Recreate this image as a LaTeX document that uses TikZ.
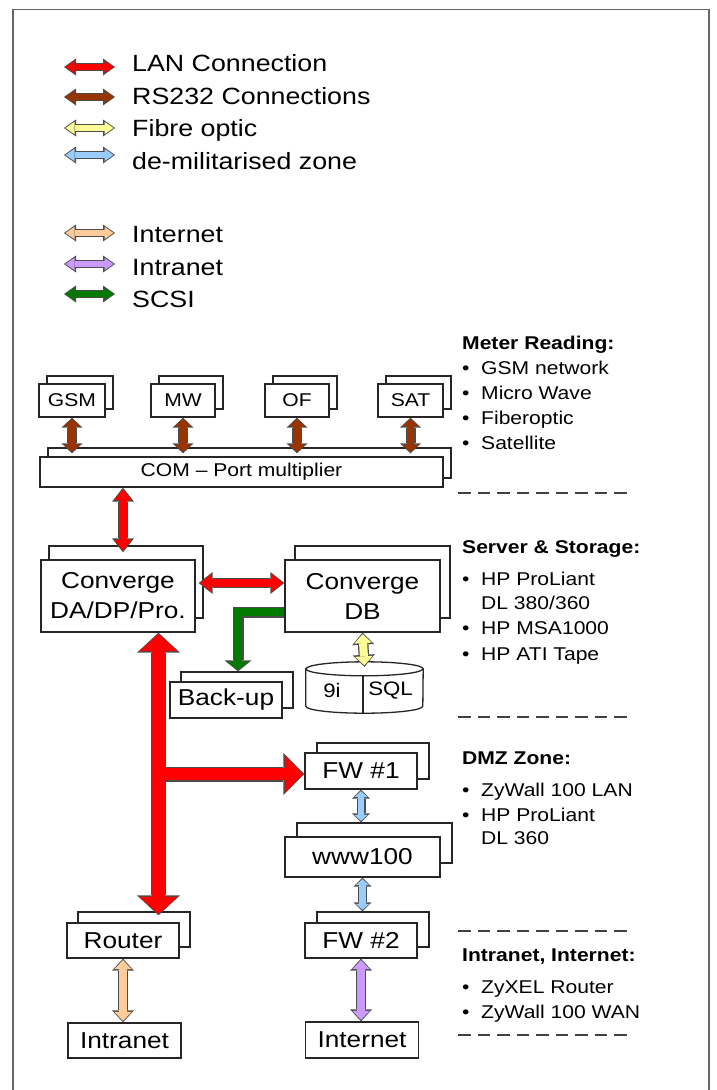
\documentclass[tikz,border=0pt]{standalone}
\usepackage{fontspec}
\setmainfont{Liberation Sans}[FakeStretch=1.14]
\usepackage{tikz}
\usetikzlibrary{calc}
\usetikzlibrary{arrows.meta}
\usetikzlibrary{shadows}
\definecolor{lanred}{HTML}{FF0000}
\definecolor{rsbrown}{HTML}{993300}
\definecolor{fibre}{HTML}{FFFF99}
\definecolor{dmzblue}{HTML}{99CCFF}
\definecolor{webpeach}{HTML}{FFCC99}
\definecolor{netlilac}{HTML}{CC99FF}
\definecolor{scsigreen}{HTML}{007A00}
\newcommand\itembul{\makebox[19pt][l]{\textbullet}}

\begin{document}
\begin{tikzpicture}[x=1pt,y=-1pt]
  \tikzset{
    box/.style={draw=black!85, line width=1.3pt, fill=white, inner sep=0pt, align=center, font=\fontsize{23}{30}\selectfont},
    tag/.style={box, font=\fontsize{18.5}{22}\selectfont},
    back/.style 2 args={copy shadow={shadow xshift=#1, shadow yshift=#2, draw=black!85, fill=white, line width=1.3pt}},
    rim/.style n args={3}{draw=black!70, line width=#1, line join=miter,
      arrows={Triangle[width=#2,length=#3,line width=0pt]-Triangle[width=#2,length=#3,line width=0pt]}},
    rimend/.style n args={3}{draw=black!70, line width=#1, line join=miter,
      arrows={-Triangle[width=#2,length=#3,line width=0pt]}},
    core/.style n args={4}{draw=#1, line width=#2, line join=miter, shorten <=1.5pt, shorten >=1.5pt,
      arrows={Triangle[width=#3,length=#4,line width=0pt]-Triangle[width=#3,length=#4,line width=0pt]}},
    coreend/.style n args={4}{draw=#1, line width=#2, line join=miter, shorten >=1.5pt,
      arrows={-Triangle[width=#3,length=#4,line width=0pt]}},
    legarrow/.style={preaction={rim={8pt}{17pt}{12pt}, shorten <=0pt, shorten >=0pt}, core={#1}{5.6pt}{12.5pt}{9pt}},
    rs/.style={preaction={rim={10pt}{21pt}{10pt}, shorten <=0pt, shorten >=0pt}, core={rsbrown}{7.6pt}{16.5pt}{7pt}},
    lan/.style={preaction={rim={10.5pt}{22pt}{14pt}, shorten <=0pt, shorten >=0pt}, core={lanred}{8.1pt}{17.5pt}{11pt}},
    pipe/.style={preaction={rim={10.5pt}{22pt}{12pt}, shorten <=0pt, shorten >=0pt}, core={#1}{8.1pt}{17.5pt}{9pt}},
    dmz/.style={preaction={rim={9pt}{18pt}{9pt}, shorten <=0pt, shorten >=0pt}, core={dmzblue}{6.6pt}{13.5pt}{6pt}},
    legend/.style={anchor=base west, inner sep=0pt, font=\fontsize{23.5}{28}\selectfont},
    note/.style={anchor=base west, inner sep=0pt, font=\fontsize{18.5}{22}\selectfont},
    head/.style={note, font=\fontsize{18.5}{22}\selectfont\bfseries},
    divider/.style={draw=black!75, line width=2pt, dash pattern=on 12.5pt off 7pt}
  }
  \useasboundingbox (0,0) rectangle (716,1090);
  \draw [black!60, line width=1.5pt] (13,1100) -- (13,9.5) -- (709,9.5) -- (709,1100);

  % legend
  \foreach \ay/\ty/\col/\txt in {67/71.5/lanred/LAN Connection, 97/104/rsbrown/RS232 Connections,
      128/136.5/fibre/Fibre optic, 155/169/dmzblue/de-militarised zone,
      233/242.5/webpeach/Internet, 264/275/netlilac/Intranet, 294/307/scsigreen/SCSI}{
    \coordinate (k\col a) at (64,\ay);
    \coordinate (k\col b) at (115,\ay);
    \path [legarrow=\col] (k\col a) -- (k\col b);
    \node [legend] (k\col) at (132,\ty) {\txt};
  }

  % meter reading
  \node [tag, back={8pt}{8pt}, minimum width=66pt, minimum height=33pt] (gsm) at (72,400.5) {GSM};
  \node [tag, back={8pt}{8pt}, minimum width=64pt, minimum height=33pt] (mw) at (183,400.5) {MW};
  \node [tag, back={8pt}{8pt}, minimum width=64pt, minimum height=33pt] (of) at (297,400.5) {OF};
  \node [tag, back={8pt}{8pt}, minimum width=65pt, minimum height=33pt] (sat) at (410.5,400.5) {SAT};
  \node [tag, back={8pt}{9pt}, minimum width=403pt, minimum height=30pt] (com) at (241.5,472) {COM -- Port multiplier};

  % server & storage
  \node [box, back={8pt}{14pt}, minimum width=154pt, minimum height=72pt] (conv) at (118,596) {Converge\\DA/DP/Pro.};
  \node [box, back={10pt}{14pt}, minimum width=155pt, minimum height=72pt] (db) at (362.5,596) {Converge\\DB};
  \node [box, back={11pt}{10pt}, minimum width=112pt, minimum height=36pt] (backup) at (226,700) {Back-up};
  \node [minimum width=117pt, minimum height=51pt, inner sep=0pt] (store) at (364.5,687.5) {};
  \path [draw=black!85, line width=1.3pt, fill=white] ($(store.north west)+(0,7)$) -- ($(store.south west)+(0,-7)$)
    arc [start angle=180, end angle=360, x radius=58.5pt, y radius=7pt] -- ($(store.north east)+(0,7)$)
    arc [start angle=0, end angle=180, x radius=58.5pt, y radius=7pt] -- cycle;
  \draw [black!85, line width=1.3pt] ($(store.north west)+(0,7)$) arc [start angle=180, end angle=360, x radius=58.5pt, y radius=7pt];
  \draw [black!85, line width=1.3pt] ($(store.north)+(-1.5,14)$) -- ($(store.south)+(-1.5,0)$);
  \node [font=\fontsize{19.5}{22}\selectfont] (ora) at ($(store)+(-32.5,3)$) {9i};
  \node [font=\fontsize{19.5}{22}\selectfont] (sql) at ($(store)+(26,3)$) {SQL};

  % dmz
  \node [box, back={12pt}{10pt}, minimum width=112pt, minimum height=36pt] (fw1) at (361,771) {FW \#1};
  \node [box, back={12pt}{14pt}, minimum width=155pt, minimum height=40pt] (www) at (362.5,857) {www100};
  \node [box, back={12pt}{11pt}, minimum width=112pt, minimum height=35pt] (fw2) at (361,940.5) {FW \#2};
  \node [box, back={11pt}{11pt}, minimum width=112pt, minimum height=35pt] (router) at (123,940.5) {Router};
  \node [box, minimum width=113pt, minimum height=35pt] (intranet) at (124.5,1040.5) {Intranet};
  \node [box, minimum width=113pt, minimum height=36pt] (internet) at (362,1040) {Internet};

  \foreach \n in {gsm,mw,of,sat}
    \path [rs] (\n.south) -- ($(\n.south |- com.north)+(0,-3)$);
  \path [lan] ($(conv.north |- com.south)+(5,0)$) -- ($(conv.north)+(5,-7)$);
  \path [lan] ($(conv.east)+(3,-13)$) -- ($(db.west)+(0,-13)$);

  % LAN trunk
  \coordinate (tee) at (158.5,774);
  \path [rim={15pt}{43pt}{20pt}] (tee |- conv.south) -- ($(tee |- router.north)+(0,-7)$);
  \path [rimend={15pt}{42pt}{21pt}] (tee) -- (tee -| fw1.west);
  \path [core={lanred}{12.6pt}{38.5pt}{17pt}] (tee |- conv.south) -- ($(tee |- router.north)+(0,-7)$);
  \path [coreend={lanred}{12.6pt}{37.5pt}{18pt}] (tee) -- (tee -| fw1.west);

  % scsi
  \path [rimend={11pt}{27pt}{11pt}] ($(db.west)+(0,16)$) -| ($(backup.north)+(12,-10)$);
  \path [coreend={scsigreen}{8.6pt}{22.5pt}{8pt}] ($(db.west)+(0,16)$) -| ($(backup.north)+(12,-10)$);

  \path [pipe=fibre] (db.south) -- ($(store.north)+(0,5)$);
  \path [dmz] (fw1.south) -- ($(fw1.south |- www.north)+(0,-14)$);
  \path [dmz] (www.south) -- ($(www.south |- fw2.north)+(0,-11)$);
  \path [pipe=webpeach] (router.south) -- (router.south |- intranet.north);
  \path [pipe=netlilac] (fw2.south) -- (fw2.south |- internet.north);

  % notes
  \node [head] (h1) at (462,349.6) {Meter Reading:};
  \foreach \y/\txt [count=\i] in {374.6/GSM network, 399.6/Micro Wave, 424.6/Fiberoptic, 449.6/Satellite}
    \node [note] (ma\i) at (462,\y) {\itembul\txt};
  \node [head] (h2) at (462,553.6) {Server \& Storage:};
  \foreach \y/\txt [count=\i] in {585.6/HP ProLiant, 634.6/HP MSA1000, 660.6/HP ATI Tape}
    \node [note] (sa\i) at (462,\y) {\itembul\txt};
  \node [note] (sb) at (481,609.6) {DL 380/360};
  \node [head] (h3) at (462,764.6) {DMZ Zone:};
  \foreach \y/\txt [count=\i] in {796.6/ZyWall 100 LAN, 821.6/HP ProLiant}
    \node [note] (da\i) at (462,\y) {\itembul\txt};
  \node [note] (db2) at (481,844.6) {DL 360};
  \node [head] (h4) at (462,961.6) {Intranet, Internet:};
  \foreach \y/\txt [count=\i] in {993.6/ZyXEL Router, 1018.6/ZyWall 100 WAN}
    \node [note] (ia\i) at (462,\y) {\itembul\txt};

  \foreach \y in {493,717,931,1035}
    \path [divider] (458,\y) -- (626.5,\y);
\end{tikzpicture}
\end{document}
